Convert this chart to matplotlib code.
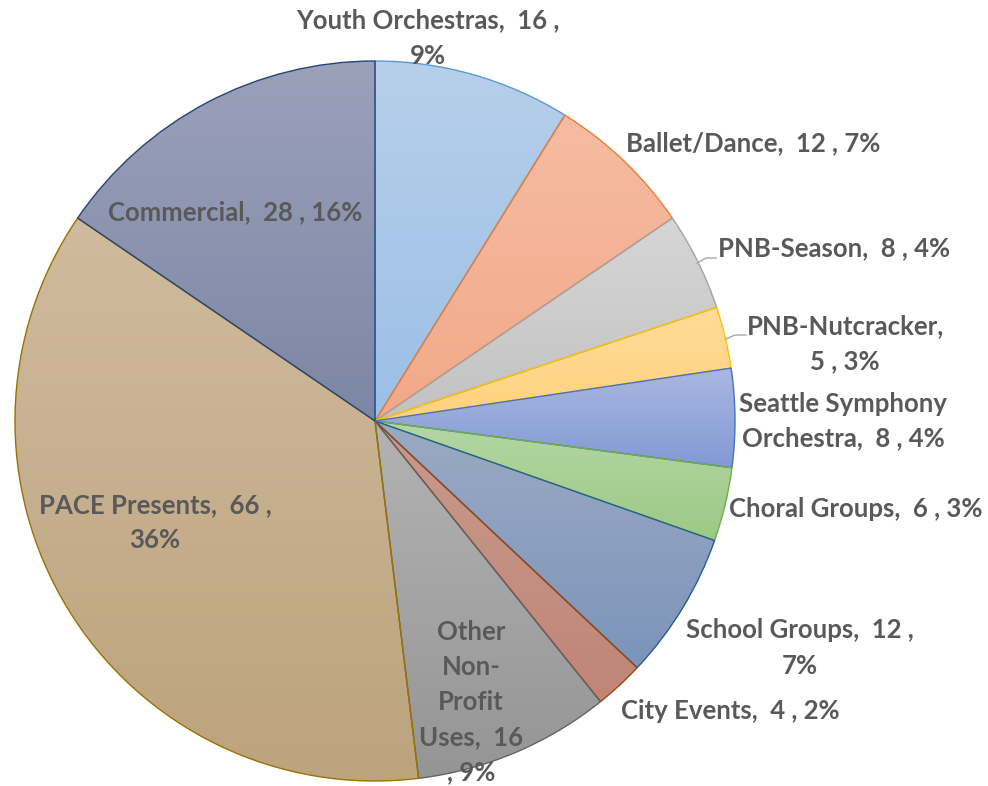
import matplotlib
matplotlib.use("Agg")
import matplotlib.pyplot as plt
import numpy as np
from matplotlib.colors import LinearSegmentedColormap

# ---- data ----
categories = ["Youth Orchestras", "Ballet/Dance", "PNB-Season", "PNB-Nutcracker",
              "Seattle Symphony Orchestra", "Choral Groups", "School Groups",
              "City Events", "Other Non-Profit Uses", "PACE Presents", "Commercial"]
values = [16, 12, 8, 5, 8, 6, 12, 4, 16, 66, 28]
pct_labels = ["9%", "7%", "4%", "3%", "4%", "3%", "7%", "2%", "9%", "36%", "16%"]

# ---- styles ----
top_colors = ["#B7CFEA", "#F6BCA2", "#D6D6D6", "#FFDB99", "#A9B8E2", "#B4D6A4",
              "#9AAAC4", "#C89A8D", "#B3B3B3", "#CFBB9D", "#9BA1B9"]
bot_colors = ["#9BBFE6", "#F2A889", "#C2C2C2", "#FFD27D", "#8399D4", "#9CC985",
              "#7C94BA", "#C08576", "#959595", "#BDA37E", "#7C86A6"]
edge_colors = ["#5B9BD5", "#ED7D31", "#A5A5A5", "#FFC000", "#4472C4", "#70AD47",
               "#255E91", "#9E480E", "#636363", "#997300", "#264478"]

W, H = 988, 786
CX, CY, R = 375, 421, 360

fig = plt.figure(figsize=(W / 100, H / 100), dpi=100)
ax = fig.add_axes([0, 0, 1, 1])
ax.set_xlim(-CX / R, (W - CX) / R)
ax.set_ylim(-(H - CY) / R, CY / R)
ax.set_aspect("equal")
ax.axis("off")

wedges, _ = ax.pie(values, startangle=90, counterclock=False, radius=1,
                   wedgeprops=dict(linewidth=1.0))
for w, tc, bc, ec in zip(wedges, top_colors, bot_colors, edge_colors):
    w.set_facecolor("none")
    w.set_edgecolor(ec)
    w.set_zorder(3)
    ext = w.get_path().get_extents()
    cmap = LinearSegmentedColormap.from_list("g", [tc, bc])
    grad = np.linspace(0, 1, 256).reshape(-1, 1)
    im = ax.imshow(grad, cmap=cmap, aspect="auto", origin="upper",
                   extent=[ext.x0, ext.x1, ext.y0, ext.y1], zorder=2,
                   interpolation="bilinear")
    im.set_clip_path(w)

ax.set_xlim(-CX / R, (W - CX) / R)
ax.set_ylim(-(H - CY) / R, CY / R)

def P(px, py):
    return ((px - CX) / R, (CY - py) / R)

# label layout (pixel positions of label centers) and line wrapping
label_texts = [
    f"{categories[0]},  {values[0]} ,\n{pct_labels[0]}",
    f"{categories[1]},  {values[1]} , {pct_labels[1]}",
    f"{categories[2]},  {values[2]} , {pct_labels[2]}",
    f"{categories[3]},\n{values[3]} , {pct_labels[3]}",
    f"Seattle Symphony\nOrchestra,  {values[4]} , {pct_labels[4]}",
    f"{categories[5]},  {values[5]} , {pct_labels[5]}",
    f"{categories[6]},  {values[6]} ,\n{pct_labels[6]}",
    f"{categories[7]},  {values[7]} , {pct_labels[7]}",
    f"Other\nNon-\nProfit\nUses,  {values[8]}\n, {pct_labels[8]}",
    f"{categories[9]},  {values[9]} ,\n{pct_labels[9]}",
    f"{categories[10]},  {values[10]} , {pct_labels[10]}",
]
label_pos = [(428, 38), (753, 143), (834, 248), (845, 344), (843, 421),
             (856, 509), (800, 648), (730, 711), (471, 702), (155, 523),
             (235, 212)]

for txt, (px, py) in zip(label_texts, label_pos):
    x, y = P(px, py)
    ax.text(x, y, txt, ha="center", va="center", fontsize=18.5,
            fontweight="bold", family="Lato", color="#595959",
            linespacing=1.55, zorder=5)

# leader lines
for pts in [[(697, 263), (706, 258), (716, 258)],
            [(726, 339), (735, 335), (746, 335)]]:
    xs, ys = zip(*[P(a, b) for a, b in pts])
    ax.plot(xs, ys, color="#A6A6A6", lw=1.0, zorder=4)

fig.savefig("out.png", dpi=100)
